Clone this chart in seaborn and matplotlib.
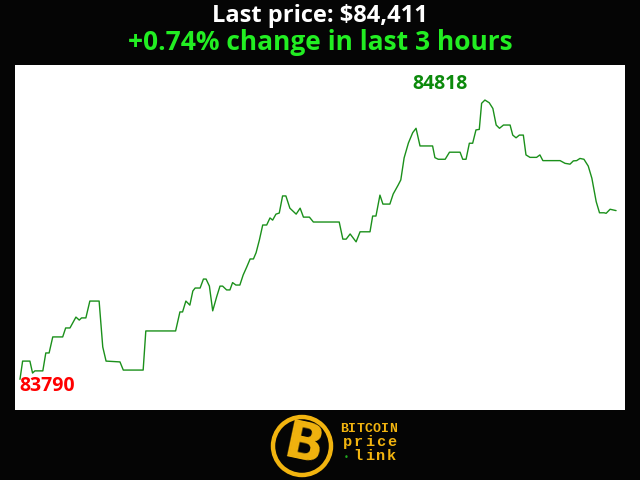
import matplotlib
matplotlib.use("Agg")
import matplotlib.pyplot as plt
import seaborn as sns
import pandas as pd
from matplotlib.patches import Circle

# ---- data ----
minutes = [0, 0.8, 3.0, 3.8, 4.5, 6.9, 7.8, 8.8, 9.9, 12.9, 13.8, 15.1, 16.9, 17.9, 18.6,
           19.9, 21.1, 23.9, 25.0, 26.0, 30.2, 31.2, 37.2, 38.0, 47.0, 48.3, 49.1, 50.1,
           51.3, 52.2, 52.9, 54.4, 55.4, 56.2, 57.2, 58.2, 59.4, 60.4, 61.2, 62.4, 63.4,
           64.2, 65.2, 66.4, 67.4, 68.5, 69.5, 70.5, 71.3, 72.3, 73.3, 74.5, 75.5, 76.3,
           77.3, 78.3, 79.3, 80.3, 81.5, 83.4, 84.6, 85.6, 87.4, 88.6, 96.4, 97.5, 98.5,
           99.7, 101.5, 102.7, 105.7, 106.5, 107.5, 108.7, 109.6, 111.7, 112.7, 114.2,
           115.0, 116.0, 117.3, 118.6, 119.6, 120.8, 124.6, 125.3, 126.3, 128.4, 129.7,
           132.9, 133.7, 134.7, 135.7, 136.7, 137.7, 138.7, 139.4, 140.4, 141.7, 142.8,
           143.8, 144.8, 146.0, 148.0, 148.8, 149.8, 150.8, 152.0, 152.8, 154.0, 156.0,
           157.0, 157.9, 163.1, 164.6, 166.1, 167.1, 168.1, 169.1, 170.3, 171.6, 172.7,
           174.0, 175.0, 176.4, 177.0, 178.2, 180.0]
prices = [83790, 83857, 83857, 83813, 83821, 83821, 83887, 83887, 83946, 83946, 83979,
          83979, 84019, 84008, 84016, 84016, 84078, 84078, 83909, 83857, 83854, 83824,
          83824, 83968, 83968, 84038, 84038, 84078, 84063, 84115, 84126, 84126, 84159,
          84159, 84133, 84042, 84094, 84133, 84133, 84119, 84119, 84146, 84137, 84137,
          84174, 84204, 84233, 84233, 84256, 84303, 84358, 84358, 84384, 84376, 84398,
          84402, 84465, 84465, 84420, 84398, 84420, 84387, 84387, 84369, 84369, 84306,
          84306, 84325, 84296, 84333, 84333, 84391, 84391, 84468, 84435, 84435, 84472,
          84505, 84524, 84605, 84660, 84698, 84714, 84649, 84649, 84606, 84600, 84600,
          84626, 84626, 84600, 84600, 84659, 84659, 84708, 84710, 84806, 84818, 84808,
          84787, 84726, 84714, 84726, 84726, 84689, 84679, 84689, 84689, 84616, 84607,
          84607, 84616, 84595, 84595, 84585, 84582, 84594, 84595, 84603, 84600, 84575,
          84530, 84444, 84403, 84403, 84401, 84416, 84411]

title_line1 = "Last price: $84,411"
title_line2 = "+0.74% change in last 3 hours"
min_label = "83790"
max_label = "84818"
logo_word1 = "BITCOIN"
logo_word2 = "price"
logo_word3 = ".link"

df = pd.DataFrame({"minute": minutes, "price": prices})

sns.set_theme(style="white")
plt.rcParams["font.family"] = ["Open Sans", "DejaVu Sans"]

BG = "#050505"
W, H = 640, 480
fig = plt.figure(figsize=(6.4, 4.8), dpi=100, facecolor=BG)
ax = fig.add_axes([15 / W, 1 - 410 / H, 610 / W, 345 / H])
ax.set_facecolor("white")

sns.lineplot(data=df, x="minute", y="price", ax=ax, color="#1b901b",
             linewidth=1.0, estimator=None, sort=False)

ax.set_xlim(-1.5, 182.7)
ax.set_ylim(83677, 84947)
ax.set_xticks([])
ax.set_yticks([])
ax.set_xlabel("")
ax.set_ylabel("")
for s in ax.spines.values():
    s.set_visible(False)

# min / max annotations
imin = prices.index(min(prices))
imax = prices.index(max(prices))
ax.annotate(min_label, xy=(minutes[imin], prices[imin]), xytext=(-0.5, -4.5),
            textcoords="offset points", color="#ff0000", fontsize=14,
            fontweight="bold", ha="left", va="center")
ax.annotate(max_label, xy=(minutes[imax], prices[imax]), xytext=(-52.5, 11.5),
            textcoords="offset points", color="#0c8a0c", fontsize=14,
            fontweight="bold", ha="left", va="center")

# titles
fig.text(0.5, 1 - 16 / H, title_line1, color="white", fontsize=17,
         fontweight="bold", ha="center", va="center")
fig.text(0.5, 1 - 43 / H, title_line2, color="#22ee22", fontsize=19,
         fontweight="bold", ha="center", va="center")

# logo
GOLD = "#f2b40f"
circ = Circle((302 / 100, (H - 446) / 100), 29 / 100, transform=fig.dpi_scale_trans,
              facecolor=BG, edgecolor=GOLD, linewidth=3.2)
fig.patches.append(circ)
fig.text(303 / W, 1 - 446 / H, "B", color=GOLD, fontsize=37, fontweight="heavy",
         ha="center", va="center", rotation=-12, family="DejaVu Sans")
mono = "Liberation Mono"
for i, ch in enumerate(logo_word1):
    fig.text((344 + 8.2 * i) / W, 1 - 429 / H, ch, color=GOLD, fontsize=9.5,
             fontweight="bold", family=mono, ha="center", va="center")
for i, ch in enumerate(logo_word2):
    fig.text((347 + 11.2 * i) / W, 1 - 442 / H, ch, color=GOLD, fontsize=11,
             fontweight="bold", family=mono, ha="center", va="center")
for i, ch in enumerate(logo_word3):
    if ch == ".":
        fig.text((346.5 + 11.2 * i) / W, 1 - 457 / H, "•", color="#1fa81f",
                 fontsize=6, ha="center", va="center", family="DejaVu Sans")
    else:
        fig.text((347 + 11.2 * i) / W, 1 - 456 / H, ch, color=GOLD, fontsize=11,
                 fontweight="bold", family=mono, ha="center", va="center")

fig.savefig("out.png", dpi=100, facecolor=BG)
